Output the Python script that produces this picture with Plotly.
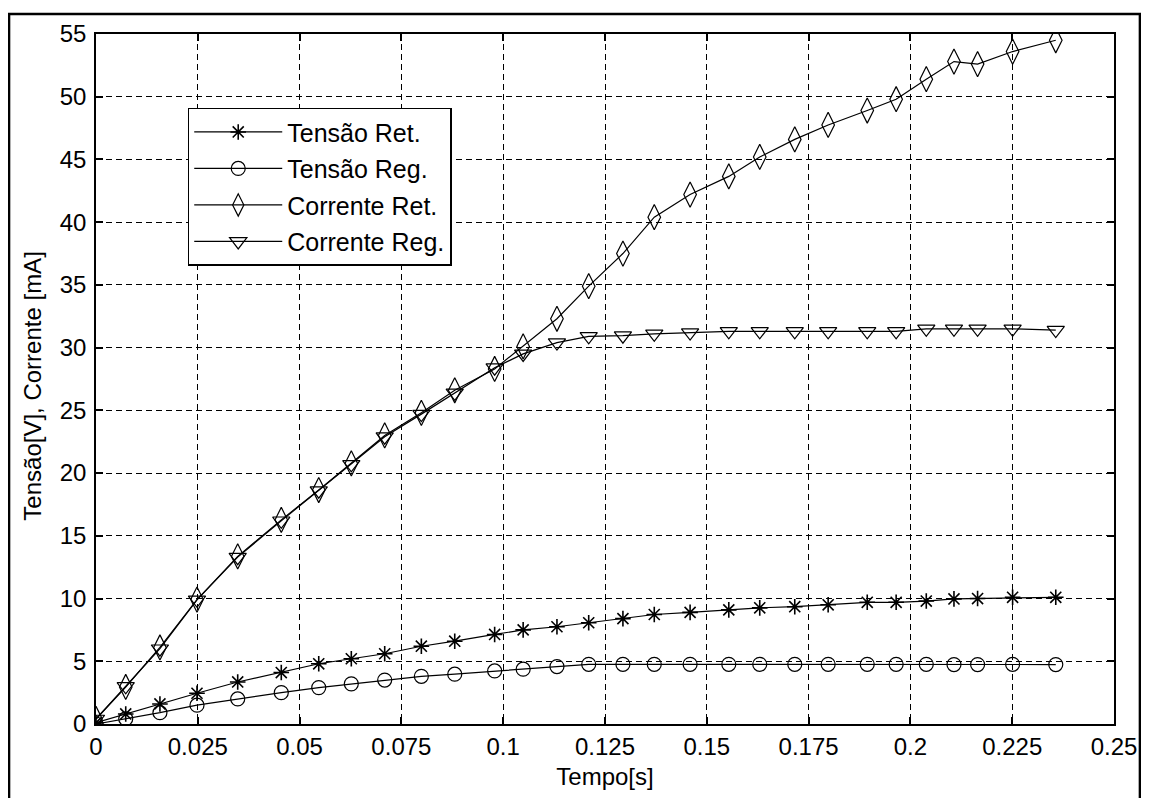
import plotly.graph_objects as go

tempo = [0, 0.0073, 0.0157, 0.0248, 0.0348, 0.0455, 0.0547, 0.0627, 0.0709, 0.0799,
         0.0881, 0.0979, 0.1049, 0.1132, 0.1210, 0.1294, 0.1371, 0.1459, 0.1554, 0.1630,
         0.1716, 0.1798, 0.1894, 0.1965, 0.2039, 0.2107, 0.2165, 0.2251, 0.2357]

tensao_ret = [0.1, 0.8, 1.6, 2.45, 3.35, 4.1, 4.8, 5.2, 5.6, 6.2,
              6.6, 7.14, 7.5, 7.75, 8.07, 8.4, 8.73, 8.9, 9.1, 9.26,
              9.35, 9.5, 9.7, 9.7, 9.8, 9.97, 10.0, 10.1, 10.1]

tensao_reg = [0.0, 0.42, 0.9, 1.5, 2.0, 2.5, 2.9, 3.2, 3.5, 3.8,
              3.97, 4.23, 4.37, 4.58, 4.76, 4.76, 4.76, 4.76, 4.76, 4.76,
              4.76, 4.76, 4.76, 4.76, 4.76, 4.74, 4.74, 4.76, 4.74]

corrente_ret = [0.4, 2.95, 6.1, 9.92, 13.36, 16.27, 18.65, 20.77, 23.0, 24.8,
                26.6, 28.3, 30.1, 32.3, 34.9, 37.5, 40.4, 42.2, 43.65, 45.2,
                46.6, 47.75, 48.9, 49.8, 51.4, 52.8, 52.6, 53.6, 54.5]

corrente_reg = [0.4, 3.0, 6.0, 9.9, 13.3, 16.2, 18.6, 20.7, 22.9, 24.7,
                26.4, 28.4, 29.5, 30.4, 30.9, 30.95, 31.1, 31.2, 31.3, 31.3,
                31.3, 31.3, 31.3, 31.3, 31.5, 31.5, 31.5, 31.5, 31.4]

series_names = ["Tensão Ret.", "Tensão Reg.", "Corrente Ret.", "Corrente Reg."]

x_ticks = [0, 0.025, 0.05, 0.075, 0.1, 0.125, 0.15, 0.175, 0.2, 0.225, 0.25]
x_ticktext = ["0", "0.025", "0.05", "0.075", "0.1", "0.125", "0.15", "0.175", "0.2", "0.225", "0.25"]
y_ticks = [0, 5, 10, 15, 20, 25, 30, 35, 40, 45, 50, 55]

x_title = "Tempo[s]"
y_title = "Tensão[V], Corrente [mA]"

FONT = "Liberation Sans, Arial, sans-serif"

fig = go.Figure()

styles = [
    dict(symbol="asterisk-open", size=13, line=dict(color="black", width=1.6)),
    dict(symbol="circle-open", size=14, line=dict(color="black", width=1.2)),
    dict(symbol="diamond-tall-open", size=18, line=dict(color="black", width=1.2)),
    dict(symbol="triangle-down-open", size=15, line=dict(color="black", width=1.2)),
]

for name, ys, st in zip(series_names, [tensao_ret, tensao_reg, corrente_ret, corrente_reg], styles):
    fig.add_trace(go.Scatter(
        x=tempo, y=ys, name=name, mode="lines+markers",
        line=dict(color="black", width=1.2),
        marker=dict(color="black", **st),
        legendgroup=name,
    ))

axis_common = dict(
    showline=True, linecolor="black", linewidth=1.5, mirror="ticks",
    ticks="inside", ticklen=7, tickcolor="black", tickwidth=1.5,
    showgrid=True, gridcolor="black", gridwidth=1.2, griddash="6px,4px",
    zeroline=False,
    tickfont=dict(family=FONT, size=24, color="black"),
)

fig.update_xaxes(range=[0, 0.25], tickvals=x_ticks, ticktext=x_ticktext,
                 title=dict(text=x_title, font=dict(family=FONT, size=24, color="black"), standoff=10),
                 **axis_common)
fig.update_yaxes(range=[0, 55], tickvals=y_ticks, ticklabelstandoff=3, **axis_common)

# The page body adds an 8px offset, so the figure is drawn 8px smaller
OFF = 8
W, H = 1149 - OFF, 798 - OFF
L, T = 96 - OFF, 32 - OFF
R = W - (1117 - OFF)
B = H - (725 - OFF)
pw, ph = W - L - R, H - T - B

def px_to_paper(px, py):
    fx, fy = px - OFF, py - OFF
    return (fx - L) / pw, (H - B - fy) / ph

# y-axis title placed as rotated text
tx, ty = px_to_paper(32, 386)
fig.add_annotation(text=y_title, xref="paper", yref="paper", x=tx, y=ty,
                   textangle=-90, showarrow=False, xanchor="center", yanchor="middle",
                   font=dict(family=FONT, size=24, color="black"))

x0, y0 = px_to_paper(OFF + 0.8, 12)
x1, y1 = px_to_paper(1143, 830)
fig.add_shape(type="rect", xref="paper", yref="paper", x0=x0, y0=y1, x1=x1, y1=y0,
              line=dict(color="black", width=2.5), layer="below")

lx, ly = px_to_paper(188, 106)
fig.update_layout(
    width=W, height=H,
    margin=dict(l=L, r=R, t=T, b=B),
    paper_bgcolor="white", plot_bgcolor="white",
    showlegend=True,
    legend=dict(x=lx, y=ly, xanchor="left", yanchor="top",
                bgcolor="white", bordercolor="black", borderwidth=1.5,
                font=dict(family=FONT, size=25, color="black"),
                itemwidth=88, tracegroupgap=1),
    font=dict(family=FONT, size=24, color="black"),
)

fig.write_html("out.html")
